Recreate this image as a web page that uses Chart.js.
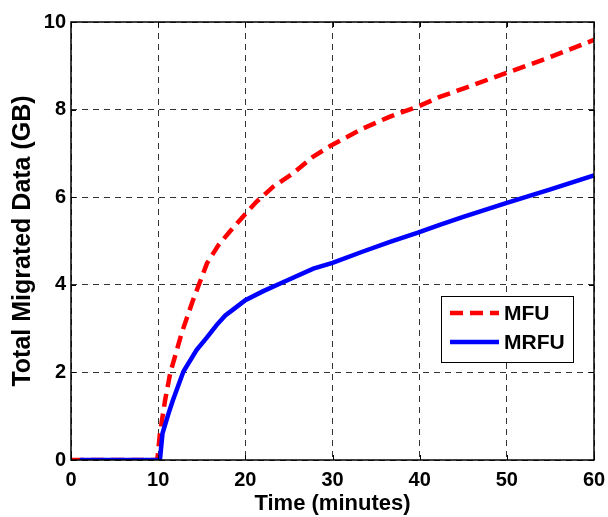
<!DOCTYPE html>
<html>
<head>
<meta charset="utf-8">
<script src="https://cdn.jsdelivr.net/npm/chart.js@4.4.1/dist/chart.umd.min.js"></script>
<style>
  html, body { margin: 0; padding: 0; background: #fff; }
  #wrap { width: 608px; height: 517px; }
</style>
</head>
<body>
<div id="wrap"><canvas id="chart" width="608" height="517"></canvas></div>
<script>
'use strict'

// values
const mfuX  = [0, 9.9, 10.2, 10.8, 11.4, 12.7, 14.0, 15.6, 16.9, 18.2, 19.7, 21.3, 23.2, 25.5, 27.8, 30, 33.5, 36.6, 39.8, 42.3, 45, 50, 55, 60]
const mfuY  = [0, 0, 0.6, 1.37, 2.0, 2.9, 3.65, 4.49, 4.9, 5.21, 5.55, 5.9, 6.24, 6.55, 6.93, 7.2, 7.57, 7.84, 8.07, 8.29, 8.48, 8.84, 9.2, 9.59]
const mrfuX = [1, 10.2, 10.5, 11.2, 11.7, 12.9, 14.4, 15.6, 16.7, 17.7, 18.7, 20, 22, 24, 27.8, 30, 33.5, 36.6, 39.8, 42.3, 45, 50, 55, 60]
const mrfuY = [0, 0, 0.61, 1.07, 1.37, 2.02, 2.51, 2.8, 3.08, 3.3, 3.45, 3.65, 3.85, 4.03, 4.37, 4.5, 4.76, 4.98, 5.19, 5.37, 5.55, 5.87, 6.18, 6.5]

const xTicks = [0, 10, 20, 30, 40, 50, 60]
const yTicks = [0, 2, 4, 6, 8, 10]
const seriesNames = ['MFU', 'MRFU']

const FONT = 'Arial, "Liberation Sans", Helvetica, sans-serif'

const toPoints = (xs, ys) => xs.map((x, i) => ({x: x, y: ys[i]}))

// frame, inward ticks and the boxed legend, MATLAB style
const framePlugin = {
    id: 'frame',
    afterDraw(chart) {
        const {ctx, chartArea: a, scales} = chart
        ctx.save()
        ctx.strokeStyle = '#000'
        ctx.lineWidth = 1.5
        ctx.setLineDash([])
        ctx.strokeRect(a.left, a.top, a.right - a.left, a.bottom - a.top)

        ctx.lineWidth = 1
        ctx.beginPath()
        xTicks.forEach(t => {
            const px = Math.round(scales.x.getPixelForValue(t)) + 0.5
            ctx.moveTo(px, a.bottom); ctx.lineTo(px, a.bottom - 5)
            ctx.moveTo(px, a.top); ctx.lineTo(px, a.top + 5)
        })
        yTicks.forEach(t => {
            const py = Math.round(scales.y.getPixelForValue(t)) + 0.5
            ctx.moveTo(a.left, py); ctx.lineTo(a.left + 5, py)
            ctx.moveTo(a.right, py); ctx.lineTo(a.right - 5, py)
        })
        ctx.stroke()

        // legend box
        const bx = 441, by = 296, bw = 132, bh = 66
        ctx.fillStyle = '#fff'
        ctx.fillRect(bx, by, bw, bh)
        ctx.strokeStyle = '#000'
        ctx.lineWidth = 1
        ctx.strokeRect(bx + 0.5, by + 0.5, bw, bh)

        chart.data.datasets.forEach((ds, i) => {
            const ly = by + 17 + i * 29
            ctx.strokeStyle = ds.borderColor
            ctx.lineWidth = ds.borderWidth
            ctx.setLineDash(ds.borderDash || [])
            ctx.beginPath()
            ctx.moveTo(bx + 9, ly)
            ctx.lineTo(bx + 58, ly)
            ctx.stroke()
            ctx.setLineDash([])
            ctx.fillStyle = '#000'
            ctx.font = 'bold 21px ' + FONT
            ctx.textBaseline = 'middle'
            ctx.fillText(ds.label, bx + 63, ly + 1)
        })
        ctx.restore()
    }
}

new Chart(document.getElementById('chart'), {
    type: 'line',
    data: {
        datasets: [{
            label: seriesNames[0],
            data: toPoints(mfuX, mfuY),
            borderColor: '#ff0000',
            borderWidth: 4.5,
            borderDash: [13, 7],
            pointRadius: 0,
            tension: 0,
            fill: false,
            order: 1
        }, {
            label: seriesNames[1],
            data: toPoints(mrfuX, mrfuY),
            borderColor: '#0000ff',
            borderWidth: 4.5,
            pointRadius: 0,
            tension: 0,
            fill: false,
            order: 0
        }]
    },
    options: {
        responsive: false,
        animation: false,
        layout: { padding: { left: 0, right: 14, top: 22, bottom: 0 } },
        plugins: {
            legend: { display: false },
            tooltip: { enabled: false }
        },
        scales: {
            x: {
                type: 'linear',
                min: 0,
                max: 60,
                afterFit(scale) {
                    scale.height = 57
                    scale.paddingLeft = 0
                    scale.paddingRight = 0
                },
                afterBuildTicks(scale) { scale.ticks = xTicks.map(v => ({value: v})) },
                grid: { color: '#333', lineWidth: 1, drawTicks: false },
                border: { display: false, dash: [6, 5] },
                ticks: {
                    color: '#000',
                    padding: 8,
                    maxRotation: 0,
                    font: { family: FONT, size: 20, weight: 'bold' }
                },
                title: {
                    display: true,
                    text: 'Time (minutes)',
                    color: '#000',
                    padding: { top: 0, bottom: 0 },
                    font: { family: FONT, size: 22, weight: 'bold' }
                }
            },
            y: {
                min: 0,
                max: 10,
                afterFit(scale) {
                    scale.width = 71
                    scale.paddingTop = 0
                    scale.paddingBottom = 0
                },
                afterBuildTicks(scale) { scale.ticks = yTicks.map(v => ({value: v})) },
                grid: { color: '#333', lineWidth: 1, drawTicks: false },
                border: { display: false, dash: [6, 5] },
                ticks: {
                    color: '#000',
                    padding: 5,
                    font: { family: FONT, size: 20, weight: 'bold' }
                },
                title: {
                    display: true,
                    text: 'Total Migrated Data (GB)',
                    color: '#000',
                    padding: { top: 8, bottom: 0 },
                    font: { family: FONT, size: 25, weight: 'bold' }
                }
            }
        }
    },
    plugins: [framePlugin]
})
</script>
</body>
</html>
